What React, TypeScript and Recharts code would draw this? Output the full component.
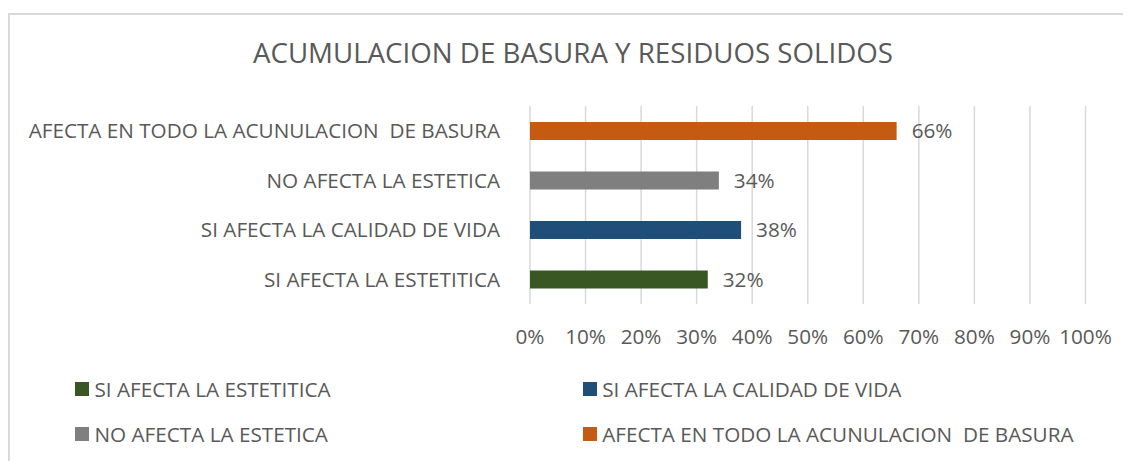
import React from 'react';
import { BarChart, Bar, XAxis, YAxis, CartesianGrid, Cell, LabelList, Legend } from 'recharts';

const categories = [
  'SI AFECTA LA ESTETITICA',
  'SI AFECTA LA CALIDAD DE VIDA',
  'NO AFECTA LA ESTETICA',
  'AFECTA EN TODO LA ACUNULACION  DE BASURA',
];
const percentValues = [32, 38, 34, 66];
const barColors = ['#385723', '#1F4E79', '#7F7F7F', '#C55A11'];
const valueTicks = [0, 10, 20, 30, 40, 50, 60, 70, 80, 90, 100];
const chartTitle = 'ACUMULACION DE BASURA Y RESIDUOS SOLIDOS';

const data = categories.map((name, i) => ({ name, value: percentValues[i] }));

const FONT = '"Open Sans", sans-serif';
const TEXT = '#595959';
const FS = 20.7;

const W = 1123;
const H = 453;

const legendCols = [67, 574.7];
const legendRows = [381, 425.5];

const LegendContent = () => (
  <div style={{ position: 'relative', width: W, height: 0 }}>
    {categories.map((c, i) => {
      const col = i % 2;
      const row = Math.floor(i / 2);
      return (
        <div
          key={c}
          style={{
            position: 'absolute',
            left: legendCols[col],
            top: legendRows[row] - 14,
            height: 28,
            display: 'flex',
            alignItems: 'center',
            whiteSpace: 'pre',
            fontFamily: FONT,
            fontSize: FS,
            color: TEXT,
          }}
        >
          <span style={{ display: 'inline-block', width: 14, height: 14, background: barColors[i], marginRight: 5.5 }} />
          <span>{c}</span>
        </div>
      );
    })}
  </div>
);

const CategoryTick = (props: any) => {
  const { x, y, payload } = props;
  return (
    <text
      x={x}
      y={y}
      dy="0.355em"
      textAnchor="end"
      fill={TEXT}
      fontSize={FS}
      fontFamily={FONT}
      style={{ whiteSpace: 'pre' }}
      xmlSpace="preserve"
    >
      {payload.value}
    </text>
  );
};

export default function App() {
  return (
    <div style={{ position: 'relative', width: W, height: H, background: '#fff' }}>
      <div
        style={{
          position: 'absolute',
          left: 0,
          top: 5,
          right: 0,
          bottom: 0,
          borderTop: '2px solid #D9D9D9',
          borderLeft: '2px solid #D9D9D9',
          pointerEvents: 'none',
        }}
      />
      <svg style={{ position: 'absolute', left: 0, top: 0 }} width={W} height={80}>
        <text x={565} y={55} textAnchor="middle" fontFamily={FONT} fontSize={27.7} fill={TEXT}>
          {chartTitle}
        </text>
      </svg>
      <div style={{ position: 'absolute', left: 0, top: 0 }}>
        <BarChart
          width={W}
          height={H}
          data={data}
          layout="vertical"
          margin={{ top: 98, right: 45.5, bottom: 127, left: 0 }}
          barSize={18}
        >
          <CartesianGrid horizontal={false} vertical stroke="#D9D9D9" strokeWidth={1.5} />
          <XAxis
            type="number"
            domain={[0, 100]}
            ticks={valueTicks}
            tickFormatter={(v) => `${v}%`}
            axisLine={false}
            tickLine={false}
            tickSize={0}
            tickMargin={25}
            interval={0}
            height={30}
            tick={{ fill: TEXT, fontSize: FS, fontFamily: FONT }}
          />
          <YAxis
            type="category"
            dataKey="name"
            reversed
            width={522}
            axisLine={false}
            tickLine={false}
            tickSize={0}
            tickMargin={30}
            interval={0}
            tick={<CategoryTick />}
          />
          <Legend
            layout="horizontal"
            verticalAlign="middle"
            align="center"
            content={<LegendContent />}
            wrapperStyle={{ left: 0, top: 0, width: W, height: 0 }}
          />
          <Bar dataKey="value" isAnimationActive={false}>
            {data.map((d, i) => (
              <Cell key={d.name} fill={barColors[i]} />
            ))}
            <LabelList
              dataKey="value"
              position="right"
              offset={15}
              formatter={(v: any) => `${v}%`}
              fill={TEXT}
              fontSize={FS}
              fontFamily={FONT}
            />
          </Bar>
        </BarChart>
      </div>
    </div>
  );
}
